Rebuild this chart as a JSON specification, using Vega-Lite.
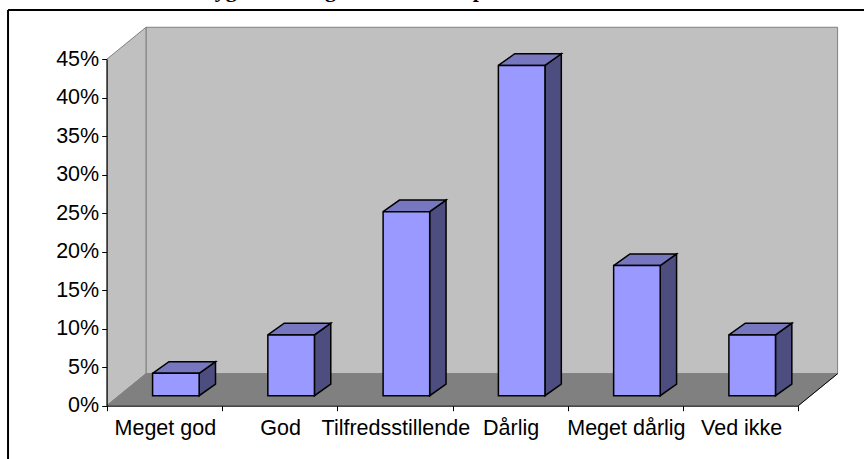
{
"$schema":"https://vega.github.io/schema/vega-lite/v6.json",
"width":864,"height":459,"padding":0,"autosize":{"type":"none"},
"background":"white",
"config":{"view":{"stroke":null}},
"datasets":{
"bars":[
{"category":"Meget god","value":0.03},
{"category":"God","value":0.08},
{"category":"Tilfredsstillende","value":0.24},
{"category":"Dårlig","value":0.43},
{"category":"Meget dårlig","value":0.17},
{"category":"Ved ikke","value":0.08}],
"frame":[
{"face":"left","k":0,"x":0,"y":0},{"face":"left","k":1,"x":0.341,"y":0.0416},{"face":"left","k":2,"x":0.341,"y":0.4916},{"face":"left","k":3,"x":0,"y":0.45},{"face":"left","k":4,"x":0,"y":0}
]},
"layer":[
{"data":{"values":[{}]},
 "mark":{"type":"rect","fill":"#c0c0c0","stroke":"#808080","strokeWidth":1},
 "encoding":{
  "x":{"datum":0.341,"type":"quantitative","scale":{"domain":[0,6],"range":[106.7,798.3]},
       "axis":{"title":null,"values":[0,1,2,3,4,5,6],"labels":false,"grid":false,"offset":-53.3,"tickSize":5,"tickColor":"black","domainColor":"black","zindex":1}},
  "x2":{"datum":6.341},
  "y":{"datum":0.0416,"type":"quantitative","scale":{"domain":[0,0.45],"range":[405.7,59.3]},
       "axis":{"title":null,"values":[0,0.05,0.1,0.15,0.2,0.25,0.3,0.35,0.4,0.45],"format":".0%","grid":false,"offset":-106.7,"tickSize":5,"tickColor":"black","domainColor":"black","labelColor":"black","labelFont":"Liberation Sans","labelFontSize":21.5,"labelPadding":3,"zindex":1}},
  "y2":{"datum":0.4916}}},
{"data":{"name":"frame"},
 "mark":{"type":"line","fill":"#c0c0c0","stroke":"#808080","strokeWidth":1},
 "encoding":{"x":{"field":"x","type":"quantitative"},"y":{"field":"y","type":"quantitative"},"order":{"field":"k"}}},
{"data":{"values":[{"k":0,"x":0,"y":0},{"k":1,"x":0.341,"y":0.0416},{"k":2,"x":6.341,"y":0.0416},{"k":3,"x":6,"y":0},{"k":4,"x":0,"y":0}]},
 "mark":{"type":"line","fill":"#808080","stroke":"#808080","strokeWidth":1},
 "encoding":{"x":{"field":"x","type":"quantitative"},"y":{"field":"y","type":"quantitative"},"order":{"field":"k"}}},
{"data":{"values":[{"k":0,"x":6,"y":0},{"k":1,"x":6.341,"y":0.0416}]},
 "mark":{"type":"line","stroke":"black","strokeWidth":1},
 "encoding":{"x":{"field":"x","type":"quantitative"},"y":{"field":"y","type":"quantitative"},"order":{"field":"k"}}},
{"data":{"name":"bars"},
 "transform":[
  {"window":[{"op":"row_number","as":"n"}]},
  {"calculate":"datum.n-0.602","as":"xl"},
  {"calculate":"datum.xl+0.404","as":"xr"},
  {"calculate":"datum.value+0.012","as":"t"},
  {"calculate":"[datum.xr,datum.xr+0.142,datum.xr+0.142,datum.xr,datum.xr]","as":"vx"},
  {"calculate":"[datum.t,datum.t+0.0152,0.0282,0.013,datum.t]","as":"vy"},
  {"calculate":"[0,1,2,3,4]","as":"k"},
  {"flatten":["vx","vy","k"]}],
 "mark":{"type":"line","fill":"#4d4d80","stroke":"black","strokeWidth":1.5},
 "encoding":{"x":{"field":"vx","type":"quantitative"},"y":{"field":"vy","type":"quantitative"},"detail":{"field":"category"},"order":{"field":"k"}}},
{"data":{"name":"bars"},
 "transform":[
  {"window":[{"op":"row_number","as":"n"}]},
  {"calculate":"datum.n-0.602","as":"xl"},
  {"calculate":"datum.xl+0.404","as":"xr"},
  {"calculate":"datum.value+0.012","as":"t"},
  {"calculate":"[datum.xl,datum.xr,datum.xr+0.142,datum.xl+0.142,datum.xl]","as":"vx"},
  {"calculate":"[datum.t,datum.t,datum.t+0.0152,datum.t+0.0152,datum.t]","as":"vy"},
  {"calculate":"[0,1,2,3,4]","as":"k"},
  {"flatten":["vx","vy","k"]}],
 "mark":{"type":"line","fill":"#7777c0","stroke":"black","strokeWidth":1.5},
 "encoding":{"x":{"field":"vx","type":"quantitative"},"y":{"field":"vy","type":"quantitative"},"detail":{"field":"category"},"order":{"field":"k"}}},
{"data":{"name":"bars"},
 "transform":[
  {"window":[{"op":"row_number","as":"n"}]},
  {"calculate":"datum.n-0.602","as":"xl"},
  {"calculate":"datum.xl+0.404","as":"xr"},
  {"calculate":"datum.value+0.012","as":"t"},
  {"calculate":"0.013","as":"b"}],
 "mark":{"type":"rect","fill":"#9999ff","stroke":"black","strokeWidth":1.5},
 "encoding":{"x":{"field":"xl","type":"quantitative"},"x2":{"field":"xr"},"y":{"field":"t","type":"quantitative"},"y2":{"field":"b"}}},
{"data":{"name":"bars"},
 "transform":[
  {"window":[{"op":"row_number","as":"n"}]},
  {"calculate":"datum.n-0.5","as":"xc"},
  {"calculate":"0","as":"y0"}],
 "mark":{"type":"text","font":"Liberation Sans","fontSize":21.5,"color":"black","align":"center","baseline":"alphabetic","dy":29.3,"dx":1},
 "encoding":{"x":{"field":"xc","type":"quantitative"},"y":{"field":"y0","type":"quantitative"},"text":{"field":"category"}}},
{"data":{"values":[{}]},
 "mark":{"type":"rule","color":"black","strokeWidth":2},
 "encoding":{"x":{"datum":-0.856,"type":"quantitative"},"x2":{"datum":7},"y":{"datum":0.514,"type":"quantitative"}}},
{"data":{"values":[{}]},
 "mark":{"type":"rule","color":"black","strokeWidth":2},
 "encoding":{"x":{"datum":-0.856,"type":"quantitative"},"y":{"datum":0.514,"type":"quantitative"},"y2":{"datum":-0.08}}},
{"data":{"values":[{}]},
 "mark":{"type":"text","font":"Liberation Serif","fontWeight":"bold","fontSize":22,"align":"left","baseline":"alphabetic","color":"black"},
 "encoding":{"x":{"datum":0.81,"type":"quantitative"},"y":{"datum":0.5315,"type":"quantitative"},"text":{"value":"Bygherrens og arkitekternes plan"}}}
]}
